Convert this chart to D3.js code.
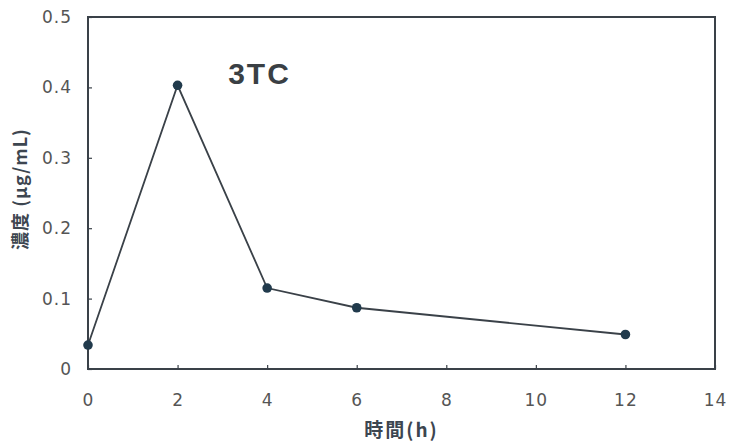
<!DOCTYPE html>
<html>
<head>
    <meta charset="utf-8">
    <title>3TC</title>
    <script src="https://d3js.org/d3.v7.min.js"></script>
    <style>
        body { margin: 0; background: #fff; }
        text { font-family: "Liberation Sans", Arial, sans-serif; }
        .jp { font-family: "Noto Sans CJK JP", sans-serif; }
    </style>
</head>
<body>
    <svg width="732" height="446"></svg>
    <script>
        // data
        const hours = [0, 2, 4, 6, 12];
        const conc = [0.034, 0.403, 0.115, 0.087, 0.049];
        const xTicks = [0, 2, 4, 6, 8, 10, 12, 14];
        const yTicks = [0, 0.1, 0.2, 0.3, 0.4, 0.5];
        const yTickLabels = ["0", "0.1", "0.2", "0.3", "0.4", "0.5"];

        const svg = d3.select("svg");
        const margin = { left: 88, top: 17, right: 17, bottom: 77 };
        const width = 732 - margin.left - margin.right;
        const height = 446 - margin.top - margin.bottom;
        const ink = "#3a4148";

        const g = svg.append("g").attr("transform", `translate(${margin.left},${margin.top})`);

        const x = d3.scaleLinear().domain([0, 14]).range([0, width]);
        const y = d3.scaleLinear().domain([0, 0.5]).range([height, 0]);

        // frame
        g.append("rect")
            .attr("width", width).attr("height", height)
            .attr("fill", "none").attr("stroke", ink).attr("stroke-width", 2);

        // axes, ticks pointing inward
        const xAxis = g.append("g").attr("transform", `translate(0,${height})`)
            .call(d3.axisBottom(x).tickValues(xTicks).tickSizeInner(-4).tickSizeOuter(0).tickPadding(21));
        const yAxis = g.append("g")
            .call(d3.axisLeft(y).tickValues(yTicks).tickFormat((d, i) => yTickLabels[i])
                .tickSizeInner(-4).tickSizeOuter(0).tickPadding(16));

        [xAxis, yAxis].forEach(a => {
            a.select(".domain").remove();
            a.selectAll("line").attr("stroke", ink).attr("stroke-width", 1.2);
            a.selectAll("text")
                .attr("fill", "#555")
                .style("font-family", "'DejaVu Sans', sans-serif")
                .style("font-size", "17px")
                .style("letter-spacing", "1px");
        });
        xAxis.selectAll("text").attr("dy", "0.95em");

        // series
        const pts = hours.map((h, i) => [h, conc[i]]);
        g.append("path")
            .datum(pts)
            .attr("fill", "none")
            .attr("stroke", ink)
            .attr("stroke-width", 1.8)
            .attr("d", d3.line().x(d => x(d[0])).y(d => y(d[1])));

        g.selectAll(".pt")
            .data(pts)
            .enter().append("circle")
            .attr("class", "pt")
            .attr("cx", d => x(d[0]))
            .attr("cy", d => y(d[1]))
            .attr("r", 4.8)
            .attr("fill", "#213a4c");

        // title
        g.append("text")
            .attr("x", x(3.13)).attr("y", 84 - margin.top)
            .attr("fill", "#3a3f44")
            .style("font-size", "30px").style("font-weight", "bold")
            .style("letter-spacing", "2px")
            .text("3TC");

        // axis labels
        svg.append("text")
            .attr("class", "jp")
            .attr("transform", "translate(27,189) rotate(-90)")
            .attr("text-anchor", "middle")
            .attr("fill", "#3d4650")
            .style("font-size", "18px").style("font-weight", "bold")
            .style("letter-spacing", "1px")
            .text("濃度 (μg/mL)");

        svg.append("text")
            .attr("class", "jp")
            .attr("x", margin.left + width / 2).attr("y", 437)
            .attr("text-anchor", "middle")
            .attr("fill", "#3d4650")
            .style("font-size", "19px").style("font-weight", "bold")
            .style("letter-spacing", "2px")
            .text("時間(h)");
    </script>
</body>
</html>
